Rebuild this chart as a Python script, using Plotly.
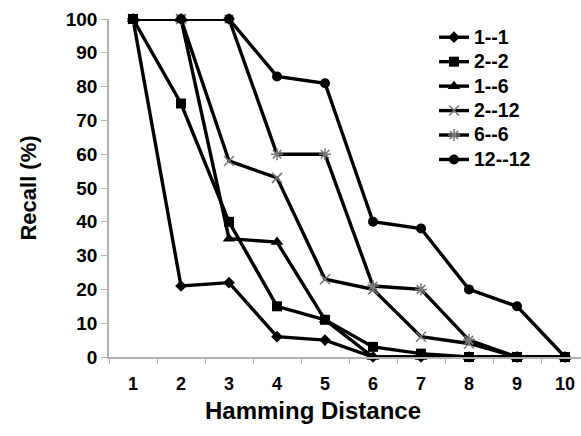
import plotly.graph_objects as go

hamming = [1, 2, 3, 4, 5, 6, 7, 8, 9, 10]
series_names = ["1--1", "2--2", "1--6", "2--12", "6--6", "12--12"]
recall_1_1 = [100, 21, 22, 6, 5, 0, 0, 0, 0, 0]
recall_2_2 = [100, 75, 40, 15, 11, 3, 1, 0, 0, 0]
recall_1_6 = [100, 100, 35, 34, 11, 0, 0, 0, 0, 0]
recall_2_12 = [100, 100, 58, 53, 23, 20, 6, 4, 0, 0]
recall_6_6 = [100, 100, 100, 60, 60, 21, 20, 5, 0, 0]
recall_12_12 = [100, 100, 100, 83, 81, 40, 38, 20, 15, 0]
y_ticks = [0, 10, 20, 30, 40, 50, 60, 70, 80, 90, 100]

FONT = "Arial, 'Liberation Sans', sans-serif"

styles = {
    "1--1": dict(symbol="diamond", size=9, color="black", lw=0, lc="black"),
    "2--2": dict(symbol="square", size=10, color="black", lw=0, lc="black"),
    "1--6": dict(symbol="triangle-up", size=11, color="black", lw=0, lc="black"),
    "2--12": dict(symbol="x-thin", size=10, color="#777777", lw=1.5, lc="#777777"),
    "6--6": dict(symbol="asterisk", size=10, color="#777777", lw=1.5, lc="#777777"),
    "12--12": dict(symbol="circle", size=10, color="black", lw=0, lc="black"),
}
data = {
    "1--1": recall_1_1, "2--2": recall_2_2, "1--6": recall_1_6,
    "2--12": recall_2_12, "6--6": recall_6_6, "12--12": recall_12_12,
}
draw_order = ["1--1", "1--6", "2--12", "6--6", "12--12", "2--2"]

fig = go.Figure()
for name in draw_order:
    st = styles[name]
    fig.add_trace(go.Scatter(
        x=hamming, y=data[name], name=f'<span style="font-size:19.5px">{name}</span>',
        mode="lines+markers",
        legendrank=series_names.index(name) + 1,
        line=dict(color="black", width=3.4),
        marker=dict(symbol=st["symbol"], size=st["size"], color=st["color"],
                    line=dict(width=st["lw"], color=st["lc"])),
        cliponaxis=False,
    ))

# invisible trace on xaxis2 for boundary ticks
fig.add_trace(go.Scatter(x=[1], y=[0], xaxis="x2", mode="markers",
                         marker=dict(opacity=0), showlegend=False, hoverinfo="skip"))

xr = [0.5, 10.333]
fig.update_layout(
    width=581, height=436,
    margin=dict(l=109, r=0, t=19, b=79, autoexpand=False),
    paper_bgcolor="white", plot_bgcolor="white",
    font=dict(family=FONT, color="black"),
    showlegend=True,
    legend=dict(x=(434 - 109) / 472, y=(357 - 20) / 338, xanchor="left", yanchor="top",
                font=dict(size=16.5, family=FONT, color="black", weight="bold"),
                bgcolor="rgba(0,0,0,0)", itemwidth=30, tracegroupgap=0),
    xaxis=dict(range=xr, tickvals=hamming, ticktext=[str(v) for v in hamming],
               ticks="outside", ticklen=10, tickcolor="rgba(0,0,0,0)",
               showgrid=False, zeroline=False, automargin=False,
               showline=True, linecolor="#b0b0b0", linewidth=1.5,
               tickfont=dict(size=18, family=FONT, color="black", weight="bold")),
    xaxis2=dict(range=xr, overlaying="x", side="bottom", anchor="y", automargin=False,
                tickvals=[v + 0.5 for v in hamming[:-1]] + [0.5], ticks="outside",
                ticklen=6, tickcolor="#b0b0b0", tickwidth=1.2, showticklabels=False,
                showgrid=False, zeroline=False, showline=False),
    yaxis=dict(range=[0, 100], tickvals=y_ticks, ticks="outside", ticklen=6,
               tickcolor="#b0b0b0", tickwidth=1.2, showgrid=False, zeroline=False,
               automargin=False,
               showline=True, linecolor="#b0b0b0", linewidth=1.5,
               tickfont=dict(size=19, family=FONT, color="black", weight="bold"),
               title=dict(text="<b>Recall (%)</b>", font=dict(size=22, family=FONT, color="black"),
                          standoff=23)),
    annotations=[dict(text="<b>Hamming Distance</b>", xref="paper", yref="paper",
                      x=(313 - 109) / 472, y=(357 - 410) / 338,
                      xanchor="center", yanchor="middle", showarrow=False,
                      font=dict(size=24, family=FONT, color="black"))],
)

fig.write_html("out.html", config={"displayModeBar": False},
               post_script="document.body.style.margin='0';")
